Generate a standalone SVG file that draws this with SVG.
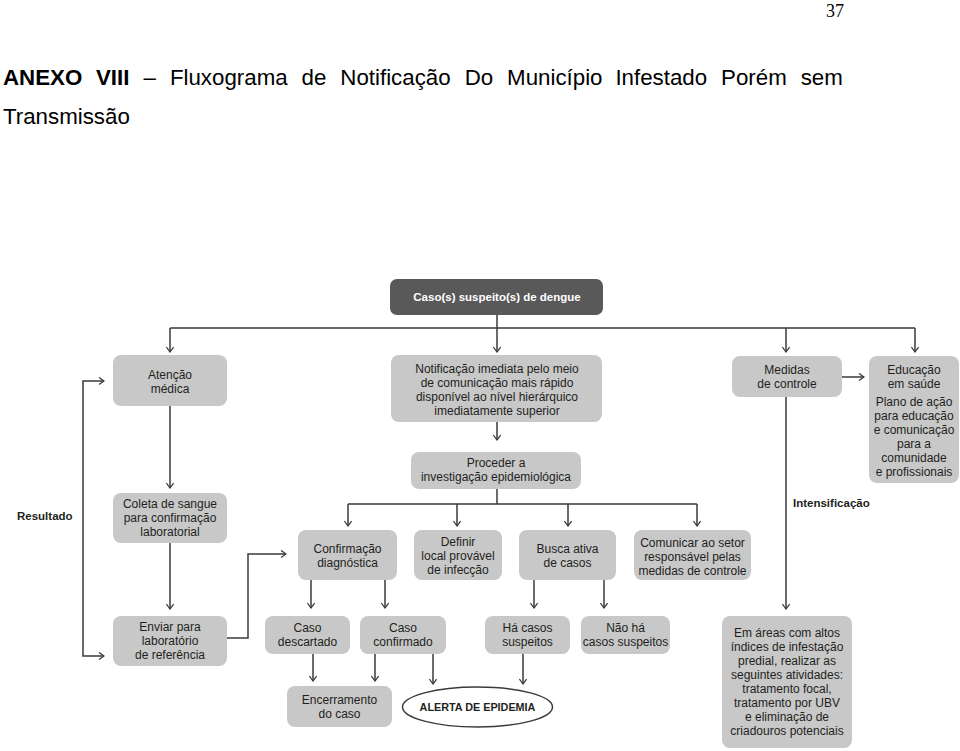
<svg xmlns="http://www.w3.org/2000/svg" width="960" height="751" viewBox="0 0 960 751">
<style>
.box{fill:#c8c8c8}
.dark{fill:#595959}
.t{font-family:"Liberation Sans",Arial,sans-serif;font-size:12px;fill:#231f20;text-anchor:middle}
.w{fill:#ffffff;font-weight:bold;font-size:11.5px}
.b{font-weight:bold;font-size:10.8px}
.lbl{font-family:"Liberation Sans",Arial,sans-serif;font-size:11.5px;font-weight:bold;fill:#231f20}
.title{font-family:"Liberation Sans",Arial,sans-serif;font-size:22.3px;fill:#000}
.c{fill:none;stroke:#3a3a3a;stroke-width:1.5}
.ca{fill:none;stroke:#3a3a3a;stroke-width:1.5;marker-end:url(#arr)}
</style>
<defs>
<marker id="arr" viewBox="0 0 10 10" refX="9" refY="5" markerWidth="9" markerHeight="9" markerUnits="userSpaceOnUse" orient="auto">
<path d="M3.5,1 L9,5 L3.5,9" fill="none" stroke="#3a3a3a" stroke-width="1.4"/>
</marker>
</defs>
<rect width="960" height="751" fill="#ffffff"/>
<text x="826" y="17" font-family="'Liberation Serif','Times New Roman',serif" font-size="18">37</text>
<text class="title" y="85"><tspan x="3" font-weight="bold">ANEXO</tspan><tspan x="96" font-weight="bold">VIII</tspan><tspan x="143.6">–</tspan><tspan x="169.9">Fluxograma</tspan><tspan x="301.6">de</tspan><tspan x="340.3">Notificação</tspan><tspan x="464.7">Do</tspan><tspan x="507.1">Município</tspan><tspan x="615.4">Infestado</tspan><tspan x="721.1">Porém</tspan><tspan x="800.7">sem</tspan></text>
<text class="title" x="3" y="124">Transmissão</text>

<g id="connectors">
<path class="c" d="M497,315 V328 M170,328 H915"/>
<path class="ca" d="M497,328 V352"/>
<path class="ca" d="M170,328 V352"/>
<path class="ca" d="M786,328 V352"/>
<path class="ca" d="M915,328 V352"/>
<path class="ca" d="M497,422 V440"/>
<path class="c" d="M497,489 V504 M348,504 H697"/>
<path class="ca" d="M348,504 V526"/>
<path class="ca" d="M457,504 V526"/>
<path class="ca" d="M568,504 V526"/>
<path class="ca" d="M697,504 V526"/>
<path class="ca" d="M170,406 V488"/>
<path class="ca" d="M170,543 V609"/>
<path class="ca" d="M83,518 V381 H104"/>
<path class="ca" d="M83,518 V656 H104"/>
<path class="ca" d="M227,638 H248 V554 H286"/>
<path class="ca" d="M842,377 H864"/>
<path class="ca" d="M786,397 V609"/>
<path class="ca" d="M311,580 V608"/>
<path class="ca" d="M385,580 V608"/>
<path class="ca" d="M534,580 V608"/>
<path class="ca" d="M604,580 V608"/>
<path class="ca" d="M313,654 V681"/>
<path class="ca" d="M375,654 V681"/>
<path class="ca" d="M433,654 V684"/>
<path class="ca" d="M523,654 V684"/>
</g>

<g id="caso-suspeito">
<rect class="dark" x="390" y="279" width="213" height="36" rx="7"/>
<text class="t w" x="497" y="301">Caso(s) suspeito(s) de dengue</text>
</g>
<g id="atencao-medica">
<rect class="box" x="113" y="355" width="114" height="51" rx="8"/>
<text class="t" x="170" y="379">Atenção</text>
<text class="t" x="170" y="393">médica</text>
</g>
<g id="notificacao">
<rect class="box" x="391" y="355" width="211" height="67" rx="8"/>
<text class="t" x="497" y="373">Notificação imediata pelo meio</text>
<text class="t" x="497" y="387">de comunicação mais rápido</text>
<text class="t" x="497" y="401">disponível ao nível hierárquico</text>
<text class="t" x="497" y="415">imediatamente superior</text>
</g>
<g id="proceder">
<rect class="box" x="411" y="452" width="170" height="37" rx="8"/>
<text class="t" x="496" y="467">Proceder a</text>
<text class="t" x="496" y="481">investigação epidemiológica</text>
</g>
<g id="medidas-controle">
<rect class="box" x="732" y="356" width="110" height="41" rx="8"/>
<text class="t" x="787" y="374">Medidas</text>
<text class="t" x="787" y="388">de controle</text>
</g>
<g id="educacao-saude">
<rect class="box" x="869" y="356" width="90" height="127" rx="8"/>
<text class="t" x="914" y="374">Educação</text>
<text class="t" x="914" y="388">em saúde</text>
<text class="t" x="914" y="406">Plano de ação</text>
<text class="t" x="914" y="420">para educação</text>
<text class="t" x="914" y="434">e comunicação</text>
<text class="t" x="914" y="448">para a</text>
<text class="t" x="914" y="462">comunidade</text>
<text class="t" x="914" y="476">e profissionais</text>
</g>
<g id="coleta-sangue">
<rect class="box" x="113" y="493" width="114" height="50" rx="8"/>
<text class="t" x="170" y="508">Coleta de sangue</text>
<text class="t" x="170" y="522">para confirmação</text>
<text class="t" x="170" y="536">laboratorial</text>
</g>
<g id="enviar-laboratorio">
<rect class="box" x="113" y="616" width="114" height="50" rx="8"/>
<text class="t" x="170" y="631">Enviar para</text>
<text class="t" x="170" y="645">laboratório</text>
<text class="t" x="170" y="659">de referência</text>
</g>
<g id="confirmacao-diagnostica">
<rect class="box" x="298" y="530" width="99" height="50" rx="8"/>
<text class="t" x="347.5" y="553">Confirmação</text>
<text class="t" x="347.5" y="567">diagnóstica</text>
</g>
<g id="definir-local">
<rect class="box" x="414" y="530" width="88" height="50" rx="8"/>
<text class="t" x="458" y="546">Definir</text>
<text class="t" x="458" y="560">local provável</text>
<text class="t" x="458" y="574">de infecção</text>
</g>
<g id="busca-ativa">
<rect class="box" x="519" y="530" width="97" height="50" rx="8"/>
<text class="t" x="567.5" y="553">Busca ativa</text>
<text class="t" x="567.5" y="567">de casos</text>
</g>
<g id="comunicar-setor">
<rect class="box" x="634" y="530" width="117" height="50" rx="8"/>
<text class="t" x="692.5" y="547">Comunicar ao setor</text>
<text class="t" x="692.5" y="561">responsável pelas</text>
<text class="t" x="692.5" y="575">medidas de controle</text>
</g>
<g id="caso-descartado">
<rect class="box" x="265" y="616" width="85" height="38" rx="8"/>
<text class="t" x="307.5" y="632">Caso</text>
<text class="t" x="307.5" y="646">descartado</text>
</g>
<g id="caso-confirmado">
<rect class="box" x="360" y="616" width="86" height="38" rx="8"/>
<text class="t" x="403" y="632">Caso</text>
<text class="t" x="403" y="646">confirmado</text>
</g>
<g id="ha-casos-suspeitos">
<rect class="box" x="485" y="616" width="85" height="38" rx="8"/>
<text class="t" x="527.5" y="632">Há casos</text>
<text class="t" x="527.5" y="646">suspeitos</text>
</g>
<g id="nao-ha-casos">
<rect class="box" x="581" y="616" width="89" height="38" rx="8"/>
<text class="t" x="625.5" y="632">Não há</text>
<text class="t" x="625.5" y="646">casos suspeitos</text>
</g>
<g id="encerramento">
<rect class="box" x="287" y="686" width="105" height="41" rx="8"/>
<text class="t" x="339.5" y="704">Encerramento</text>
<text class="t" x="339.5" y="718">do caso</text>
</g>
<g id="alerta-epidemia">
<ellipse cx="477.5" cy="707" rx="75" ry="20" fill="#ffffff" stroke="#3a3a3a" stroke-width="1.5"/>
<text class="t b" x="477.5" y="711">ALERTA DE EPIDEMIA</text>
</g>
<g id="em-areas">
<rect class="box" x="722" y="616" width="130" height="132" rx="8"/>
<text class="t" x="787" y="637">Em áreas com altos</text>
<text class="t" x="787" y="651">índices de infestação</text>
<text class="t" x="787" y="665">predial, realizar as</text>
<text class="t" x="787" y="679">seguintes atividades:</text>
<text class="t" x="787" y="693">tratamento focal,</text>
<text class="t" x="787" y="707">tratamento por UBV</text>
<text class="t" x="787" y="721">e eliminação de</text>
<text class="t" x="787" y="735">criadouros potenciais</text>
</g>
<g id="labels">
<text class="lbl" x="17" y="520">Resultado</text>
<text class="lbl" x="793" y="507">Intensificação</text>
</g>
</svg>
